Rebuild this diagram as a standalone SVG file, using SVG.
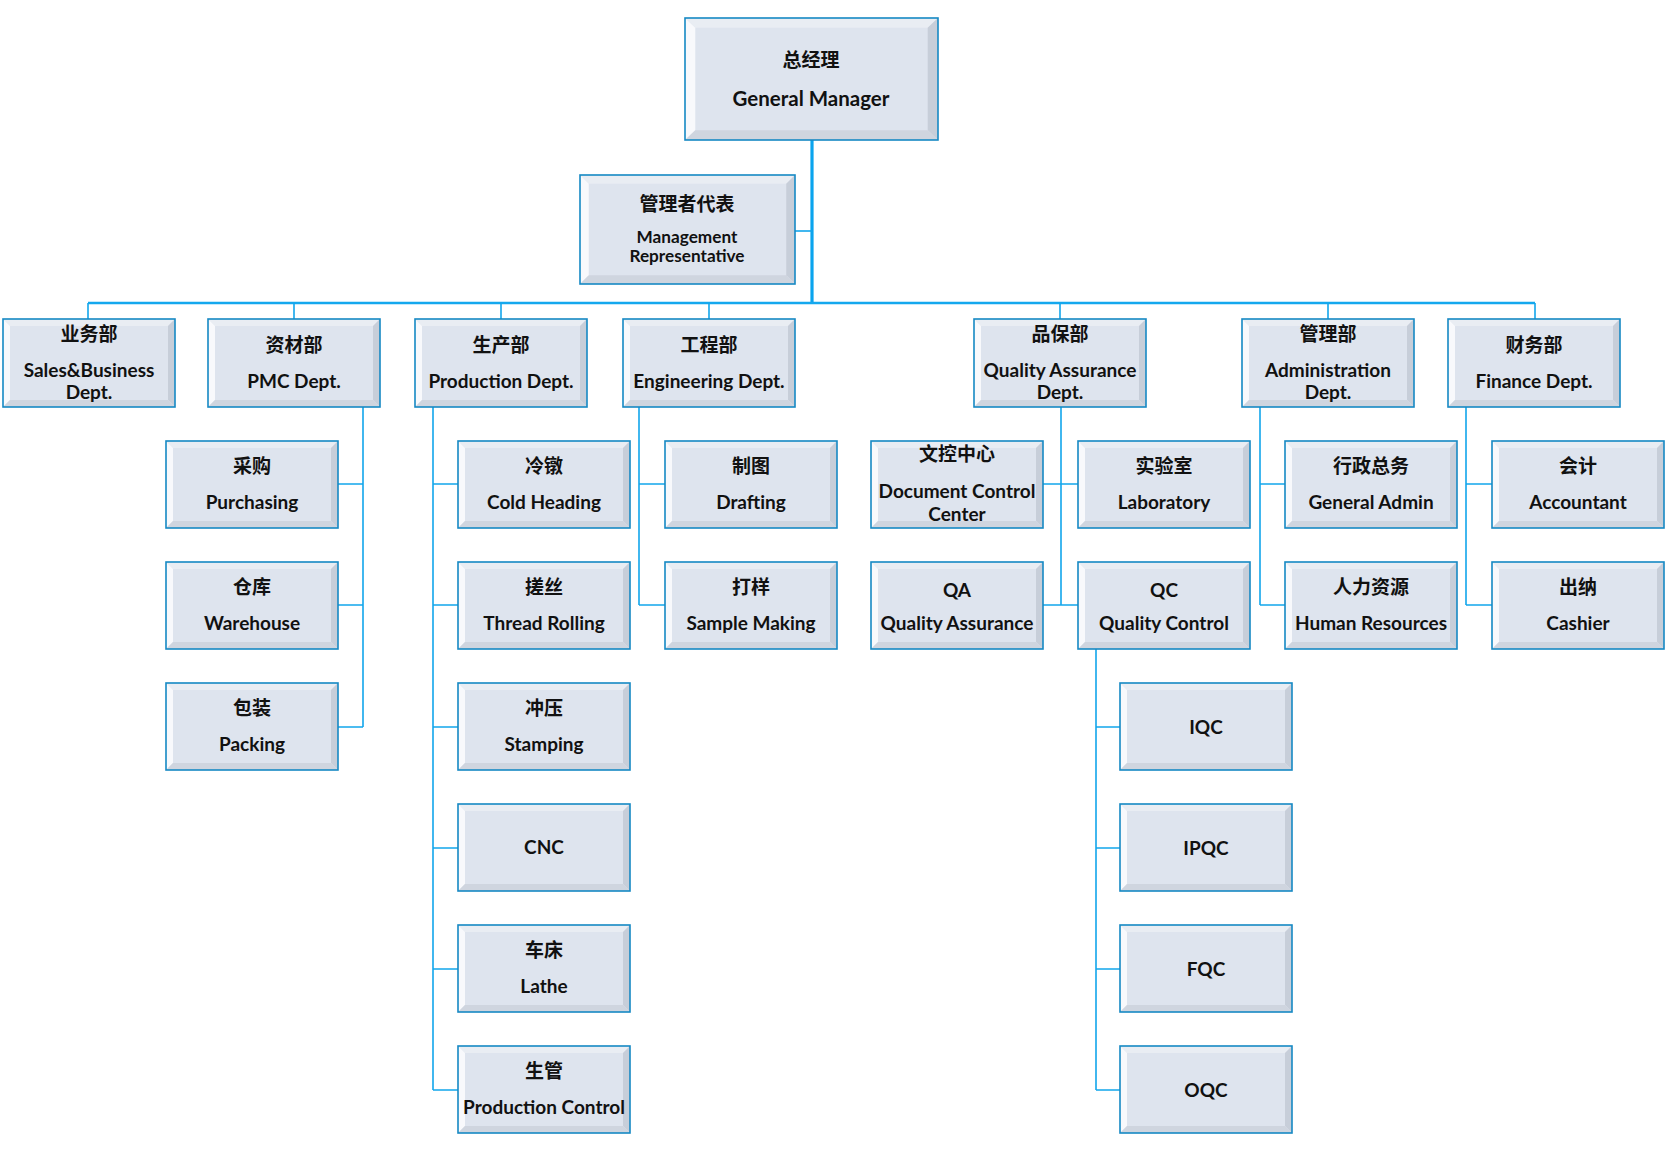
<svg xmlns="http://www.w3.org/2000/svg" xmlns:xlink="http://www.w3.org/1999/xlink" width="1666" height="1152" viewBox="0 0 1666 1152">
<defs>
<style>
.zh{font-family:"Noto Sans CJK SC","Noto Sans",sans-serif;font-size:19px;font-weight:bold;fill:#111;text-anchor:middle}
.en{font-family:Lato,"Liberation Sans",sans-serif;font-size:19px;font-weight:bold;fill:#111;text-anchor:middle}
.sm{font-size:17.2px}
.bd{fill:none;stroke:#1689c4;stroke-width:1.6}
.ln{fill:none;stroke:#12a6ec;stroke-width:1.6}
.trunk{fill:none;stroke:#0aa4ee;stroke-width:3.2}
.bus{fill:none;stroke:#14a8ee;stroke-width:2.6}
</style>
<symbol id="bev" viewBox="0 0 172 87" preserveAspectRatio="none">
<rect x="0" y="0" width="172" height="87" fill="#dee4ee"/>
<polygon points="0,0 172,0 165,7 7,7" fill="#e9edf3"/>
<polygon points="0,0 7,7 7,80 0,87" fill="#f8f9fc"/>
<polygon points="172,0 172,87 165,80 165,7" fill="#c7ced9"/>
<polygon points="0,87 7,80 165,80 172,87" fill="#cfd5df"/>
</symbol>
</defs>
<rect width="1666" height="1152" fill="#ffffff"/>

<g id="connectors">
<path class="trunk" d="M812,140 V303"/>
<path class="ln" d="M795,231 H812"/>
<path class="bus" d="M88,303 H1535"/>
<path class="ln" d="M88,303 V319 M294,303 V319 M501,303 V319 M709,303 V319 M1060,303 V319 M1328,303 V319 M1535,303 V319"/>
<path class="ln" d="M363,407 V727 M338,484 H363 M338,605 H363 M338,727 H363"/>
<path class="ln" d="M433,407 V1090 M433,484 H458 M433,605 H458 M433,727 H458 M433,848 H458 M433,969 H458 M433,1090 H458"/>
<path class="ln" d="M639,407 V605 M639,484 H665 M639,605 H665"/>
<path class="ln" d="M1061,407 V605 M1043,484 H1078 M1043,605 H1078"/>
<path class="ln" d="M1096,648 V1090 M1096,727 H1120 M1096,848 H1120 M1096,969 H1120 M1096,1090 H1120"/>
<path class="ln" d="M1260,407 V605 M1260,484 H1285 M1260,605 H1285"/>
<path class="ln" d="M1466,407 V605 M1466,484 H1492 M1466,605 H1492"/>
</g>

<g id="gm">
<use xlink:href="#bev" href="#bev" x="685" y="18" width="253" height="122"/>
<rect class="bd" x="685" y="18" width="253" height="122"/>
<text class="zh" x="811" y="67">总经理</text>
<text class="en" x="811" y="106" style="font-size:20.5px">General Manager</text>
</g>

<g id="mgmt-rep">
<use href="#bev" x="580" y="175" width="215" height="109"/>
<rect class="bd" x="580" y="175" width="215" height="109"/>
<text class="zh" x="687" y="211">管理者代表</text>
<text class="en sm" x="687" y="243">Management</text>
<text class="en sm" x="687" y="262">Representative</text>
</g>

<g id="sales">
<use href="#bev" x="3" y="319" width="172" height="88"/>
<rect class="bd" x="3" y="319" width="172" height="88"/>
<text class="zh" x="89" y="341">业务部</text>
<text class="en" x="89" y="377">Sales&amp;Business</text>
<text class="en" x="89" y="399">Dept.</text>
</g>

<g id="pmc">
<use href="#bev" x="208" y="319" width="172" height="88"/>
<rect class="bd" x="208" y="319" width="172" height="88"/>
<text class="zh" x="294" y="352">资材部</text>
<text class="en" x="294" y="388">PMC Dept.</text>
</g>

<g id="production">
<use href="#bev" x="415" y="319" width="172" height="88"/>
<rect class="bd" x="415" y="319" width="172" height="88"/>
<text class="zh" x="501" y="352">生产部</text>
<text class="en" x="501" y="388">Production Dept.</text>
</g>

<g id="engineering">
<use href="#bev" x="623" y="319" width="172" height="88"/>
<rect class="bd" x="623" y="319" width="172" height="88"/>
<text class="zh" x="709" y="352">工程部</text>
<text class="en" x="709" y="388">Engineering Dept.</text>
</g>

<g id="qa-dept">
<use href="#bev" x="974" y="319" width="172" height="88"/>
<rect class="bd" x="974" y="319" width="172" height="88"/>
<text class="zh" x="1060" y="341">品保部</text>
<text class="en" x="1060" y="377">Quality Assurance</text>
<text class="en" x="1060" y="399">Dept.</text>
</g>

<g id="admin">
<use href="#bev" x="1242" y="319" width="172" height="88"/>
<rect class="bd" x="1242" y="319" width="172" height="88"/>
<text class="zh" x="1328" y="341">管理部</text>
<text class="en" x="1328" y="377">Administration</text>
<text class="en" x="1328" y="399">Dept.</text>
</g>

<g id="finance">
<use href="#bev" x="1448" y="319" width="172" height="88"/>
<rect class="bd" x="1448" y="319" width="172" height="88"/>
<text class="zh" x="1534" y="352">财务部</text>
<text class="en" x="1534" y="388">Finance Dept.</text>
</g>

<g id="purchasing">
<use href="#bev" x="166" y="441" width="172" height="87"/>
<rect class="bd" x="166" y="441" width="172" height="87"/>
<text class="zh" x="252" y="473">采购</text>
<text class="en" x="252" y="508.5">Purchasing</text>
</g>
<g id="warehouse">
<use href="#bev" x="166" y="562" width="172" height="87"/>
<rect class="bd" x="166" y="562" width="172" height="87"/>
<text class="zh" x="252" y="594">仓库</text>
<text class="en" x="252" y="629.5">Warehouse</text>
</g>
<g id="packing">
<use href="#bev" x="166" y="683" width="172" height="87"/>
<rect class="bd" x="166" y="683" width="172" height="87"/>
<text class="zh" x="252" y="715">包装</text>
<text class="en" x="252" y="750.5">Packing</text>
</g>

<g id="cold-heading">
<use href="#bev" x="458" y="441" width="172" height="87"/>
<rect class="bd" x="458" y="441" width="172" height="87"/>
<text class="zh" x="544" y="473">冷镦</text>
<text class="en" x="544" y="508.5">Cold Heading</text>
</g>
<g id="thread-rolling">
<use href="#bev" x="458" y="562" width="172" height="87"/>
<rect class="bd" x="458" y="562" width="172" height="87"/>
<text class="zh" x="544" y="594">搓丝</text>
<text class="en" x="544" y="629.5">Thread Rolling</text>
</g>
<g id="stamping">
<use href="#bev" x="458" y="683" width="172" height="87"/>
<rect class="bd" x="458" y="683" width="172" height="87"/>
<text class="zh" x="544" y="715">冲压</text>
<text class="en" x="544" y="750.5">Stamping</text>
</g>
<g id="cnc">
<use href="#bev" x="458" y="804" width="172" height="87"/>
<rect class="bd" x="458" y="804" width="172" height="87"/>
<text class="en" x="544" y="854">CNC</text>
</g>
<g id="lathe">
<use href="#bev" x="458" y="925" width="172" height="87"/>
<rect class="bd" x="458" y="925" width="172" height="87"/>
<text class="zh" x="544" y="957">车床</text>
<text class="en" x="544" y="992.5">Lathe</text>
</g>
<g id="production-control">
<use href="#bev" x="458" y="1046" width="172" height="87"/>
<rect class="bd" x="458" y="1046" width="172" height="87"/>
<text class="zh" x="544" y="1078">生管</text>
<text class="en" x="544" y="1113.5">Production Control</text>
</g>

<g id="drafting">
<use href="#bev" x="665" y="441" width="172" height="87"/>
<rect class="bd" x="665" y="441" width="172" height="87"/>
<text class="zh" x="751" y="473">制图</text>
<text class="en" x="751" y="508.5">Drafting</text>
</g>
<g id="sample-making">
<use href="#bev" x="665" y="562" width="172" height="87"/>
<rect class="bd" x="665" y="562" width="172" height="87"/>
<text class="zh" x="751" y="594">打样</text>
<text class="en" x="751" y="629.5">Sample Making</text>
</g>

<g id="doc-control">
<use href="#bev" x="871" y="441" width="172" height="87"/>
<rect class="bd" x="871" y="441" width="172" height="87"/>
<text class="zh" x="957" y="461">文控中心</text>
<text class="en" x="957" y="498">Document Control</text>
<text class="en" x="957" y="521">Center</text>
</g>
<g id="laboratory">
<use href="#bev" x="1078" y="441" width="172" height="87"/>
<rect class="bd" x="1078" y="441" width="172" height="87"/>
<text class="zh" x="1164" y="473">实验室</text>
<text class="en" x="1164" y="508.5">Laboratory</text>
</g>
<g id="qa">
<use href="#bev" x="871" y="562" width="172" height="87"/>
<rect class="bd" x="871" y="562" width="172" height="87"/>
<text class="en" x="957" y="597">QA</text>
<text class="en" x="957" y="629.5">Quality Assurance</text>
</g>
<g id="qc">
<use href="#bev" x="1078" y="562" width="172" height="87"/>
<rect class="bd" x="1078" y="562" width="172" height="87"/>
<text class="en" x="1164" y="597">QC</text>
<text class="en" x="1164" y="629.5">Quality Control</text>
</g>

<g id="iqc">
<use href="#bev" x="1120" y="683" width="172" height="87"/>
<rect class="bd" x="1120" y="683" width="172" height="87"/>
<text class="en" x="1206" y="733.5">IQC</text>
</g>
<g id="ipqc">
<use href="#bev" x="1120" y="804" width="172" height="87"/>
<rect class="bd" x="1120" y="804" width="172" height="87"/>
<text class="en" x="1206" y="854.5">IPQC</text>
</g>
<g id="fqc">
<use href="#bev" x="1120" y="925" width="172" height="87"/>
<rect class="bd" x="1120" y="925" width="172" height="87"/>
<text class="en" x="1206" y="975.5">FQC</text>
</g>
<g id="oqc">
<use href="#bev" x="1120" y="1046" width="172" height="87"/>
<rect class="bd" x="1120" y="1046" width="172" height="87"/>
<text class="en" x="1206" y="1096.5">OQC</text>
</g>

<g id="general-admin">
<use href="#bev" x="1285" y="441" width="172" height="87"/>
<rect class="bd" x="1285" y="441" width="172" height="87"/>
<text class="zh" x="1371" y="473">行政总务</text>
<text class="en" x="1371" y="508.5">General Admin</text>
</g>
<g id="human-resources">
<use href="#bev" x="1285" y="562" width="172" height="87"/>
<rect class="bd" x="1285" y="562" width="172" height="87"/>
<text class="zh" x="1371" y="594">人力资源</text>
<text class="en" x="1371" y="629.5">Human Resources</text>
</g>

<g id="accountant">
<use href="#bev" x="1492" y="441" width="172" height="87"/>
<rect class="bd" x="1492" y="441" width="172" height="87"/>
<text class="zh" x="1578" y="473">会计</text>
<text class="en" x="1578" y="508.5">Accountant</text>
</g>
<g id="cashier">
<use href="#bev" x="1492" y="562" width="172" height="87"/>
<rect class="bd" x="1492" y="562" width="172" height="87"/>
<text class="zh" x="1578" y="594">出纳</text>
<text class="en" x="1578" y="629.5">Cashier</text>
</g>
</svg>
